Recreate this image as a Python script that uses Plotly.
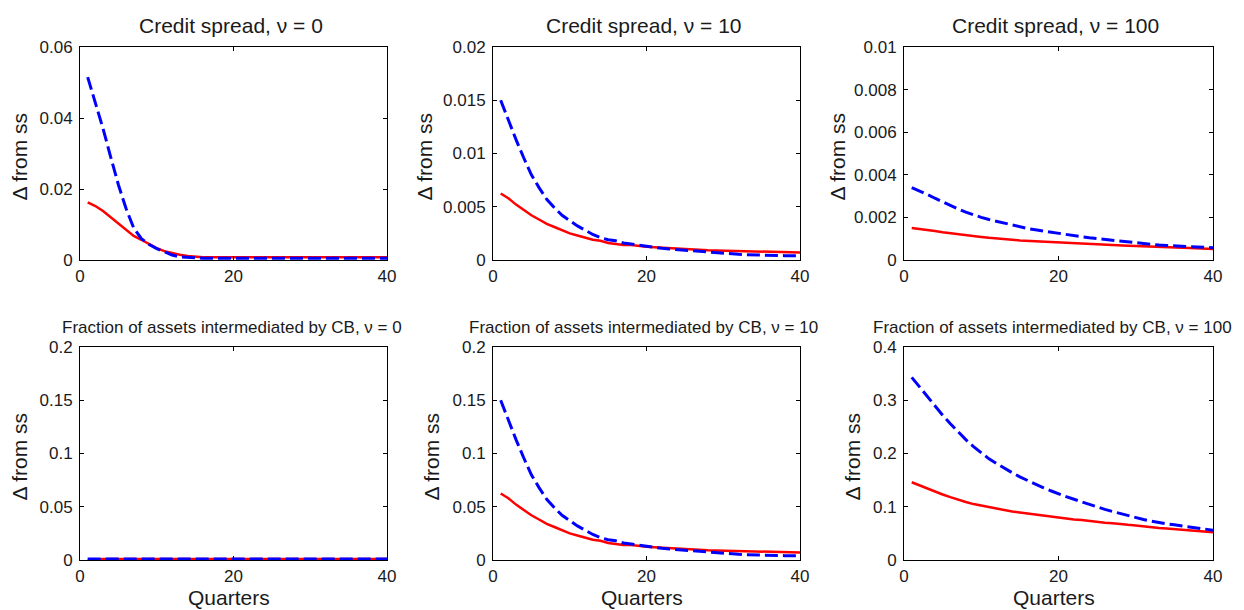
import plotly.graph_objects as go

quarters = list(range(1, 41))

# Credit spread, nu = 0
cs0_red = [0.0162, 0.0152, 0.0138, 0.0121, 0.0102, 0.0085, 0.0068, 0.0057, 0.0045, 0.0033,
           0.0025, 0.0019, 0.0015, 0.0011, 0.0009, 0.0008, 0.0008, 0.0008, 0.0008, 0.0008,
           0.0008, 0.0008, 0.0008, 0.0008, 0.0008, 0.0008, 0.0008, 0.0008, 0.0008, 0.0008,
           0.0008, 0.0008, 0.0008, 0.0008, 0.0008, 0.0008, 0.0008, 0.0008, 0.0008, 0.0008]
cs0_blue = [0.0515, 0.0445, 0.0370, 0.0290, 0.0212, 0.0145, 0.0090, 0.0060, 0.0044, 0.0032,
            0.0022, 0.0014, 0.0009, 0.0007, 0.0006, 0.0005, 0.0005, 0.0005, 0.0005, 0.0005,
            0.0005, 0.0005, 0.0005, 0.0005, 0.0005, 0.0005, 0.0005, 0.0005, 0.0005, 0.0005,
            0.0005, 0.0005, 0.0005, 0.0005, 0.0005, 0.0005, 0.0005, 0.0005, 0.0005, 0.0005]

# Credit spread, nu = 10
cs10_red = [0.00625, 0.0058, 0.0052, 0.0047, 0.0042, 0.0038, 0.0034, 0.0031, 0.0028, 0.0025,
            0.0023, 0.0021, 0.0019, 0.0018, 0.0016, 0.0015, 0.0014, 0.0014, 0.0013, 0.00125,
            0.0012, 0.00115, 0.0011, 0.00105, 0.0010, 0.00098, 0.00095, 0.00092, 0.0009, 0.00088,
            0.00086, 0.00084, 0.00082, 0.0008, 0.00078, 0.00076, 0.00074, 0.00072, 0.00071, 0.0007]
cs10_blue = [0.0150, 0.0131, 0.0113, 0.0096, 0.0080, 0.0068, 0.0057, 0.0049, 0.0042, 0.0037,
             0.0032, 0.0028, 0.0024, 0.0021, 0.0019, 0.0018, 0.0016, 0.0015, 0.0014, 0.00125,
             0.00117, 0.0011, 0.00103, 0.00097, 0.0009, 0.00083, 0.00077, 0.0007, 0.00065, 0.0006,
             0.00057, 0.00053, 0.0005, 0.00047, 0.00045, 0.00043, 0.00042, 0.00041, 0.0004, 0.0004]

# Credit spread, nu = 100
cs100_red = [0.0015, 0.00146, 0.00141, 0.00136, 0.0013, 0.00125, 0.0012, 0.00116, 0.00112, 0.00108,
             0.00104, 0.0010, 0.00098, 0.00095, 0.00092, 0.0009, 0.00088, 0.00086, 0.00085, 0.00083,
             0.00081, 0.00079, 0.00077, 0.00075, 0.00073, 0.00072, 0.0007, 0.00069, 0.00067, 0.00066,
             0.00064, 0.00062, 0.00061, 0.0006, 0.00058, 0.00057, 0.00056, 0.00054, 0.00053, 0.00052]
cs100_blue = [0.0034, 0.00325, 0.00308, 0.0029, 0.00272, 0.00256, 0.0024, 0.00225, 0.00212, 0.0020,
              0.0019, 0.00181, 0.00172, 0.00164, 0.00157, 0.00148, 0.00142, 0.00136, 0.0013, 0.00124,
              0.00119, 0.00114, 0.00109, 0.00104, 0.0010, 0.00095, 0.00091, 0.00087, 0.00083, 0.00079,
              0.00076, 0.00073, 0.0007, 0.00068, 0.00066, 0.00064, 0.00062, 0.0006, 0.00059, 0.00058]

# Fraction of assets intermediated by CB, nu = 0
fr0_red = [0.0, 0.0008, 0.001, 0.001, 0.001, 0.001, 0.001, 0.001, 0.001, 0.001,
           0.001, 0.001, 0.001, 0.001, 0.001, 0.001, 0.001, 0.001, 0.001, 0.001,
           0.001, 0.001, 0.001, 0.001, 0.001, 0.001, 0.001, 0.001, 0.001, 0.001,
           0.001, 0.001, 0.001, 0.001, 0.001, 0.001, 0.001, 0.001, 0.001, 0.001]
fr0_blue = [0.001, 0.001, 0.001, 0.001, 0.001, 0.001, 0.001, 0.001, 0.001, 0.001,
            0.001, 0.001, 0.001, 0.001, 0.001, 0.001, 0.001, 0.001, 0.001, 0.001,
            0.001, 0.001, 0.001, 0.001, 0.001, 0.001, 0.001, 0.001, 0.001, 0.001,
            0.001, 0.001, 0.001, 0.001, 0.001, 0.001, 0.001, 0.001, 0.001, 0.001]

# Fraction of assets intermediated by CB, nu = 10
fr10_red = [0.0625, 0.058, 0.052, 0.047, 0.042, 0.038, 0.034, 0.031, 0.028, 0.025,
            0.023, 0.021, 0.019, 0.018, 0.016, 0.015, 0.014, 0.014, 0.013, 0.0125,
            0.012, 0.0115, 0.011, 0.0105, 0.010, 0.0098, 0.0095, 0.0092, 0.009, 0.0088,
            0.0086, 0.0084, 0.0082, 0.008, 0.0078, 0.0076, 0.0074, 0.0072, 0.0071, 0.007]
fr10_blue = [0.150, 0.131, 0.113, 0.096, 0.080, 0.068, 0.057, 0.049, 0.042, 0.037,
             0.032, 0.028, 0.024, 0.021, 0.019, 0.018, 0.016, 0.015, 0.014, 0.0125,
             0.0117, 0.011, 0.0103, 0.0097, 0.009, 0.0083, 0.0077, 0.007, 0.0065, 0.006,
             0.0057, 0.0053, 0.005, 0.0047, 0.0045, 0.0043, 0.0042, 0.0041, 0.004, 0.004]

# Fraction of assets intermediated by CB, nu = 100
fr100_red = [0.146, 0.140, 0.134, 0.128, 0.123, 0.118, 0.113, 0.109, 0.105, 0.102,
             0.099, 0.096, 0.093, 0.091, 0.089, 0.087, 0.085, 0.083, 0.081, 0.079,
             0.078, 0.076, 0.075, 0.073, 0.072, 0.070, 0.069, 0.067, 0.066, 0.065,
             0.063, 0.062, 0.060, 0.059, 0.058, 0.057, 0.056, 0.054, 0.053, 0.052]
fr100_blue = [0.343, 0.325, 0.308, 0.290, 0.272, 0.256, 0.240, 0.226, 0.213, 0.201,
              0.190, 0.181, 0.172, 0.164, 0.156, 0.149, 0.142, 0.136, 0.130, 0.124,
              0.119, 0.114, 0.109, 0.104, 0.100, 0.095, 0.091, 0.087, 0.083, 0.079,
              0.076, 0.073, 0.070, 0.068, 0.066, 0.064, 0.062, 0.060, 0.058, 0.056]

titles = ["Credit spread, \u03bd = 0", "Credit spread, \u03bd = 10", "Credit spread, \u03bd = 100",
          "Fraction of assets intermediated by CB, \u03bd = 0",
          "Fraction of assets intermediated by CB, \u03bd = 10",
          "Fraction of assets intermediated by CB, \u03bd = 100"]
y_ticks = [
    ([0, 0.02, 0.04, 0.06], ["0", "0.02", "0.04", "0.06"]),
    ([0, 0.005, 0.01, 0.015, 0.02], ["0", "0.005", "0.01", "0.015", "0.02"]),
    ([0, 0.002, 0.004, 0.006, 0.008, 0.01], ["0", "0.002", "0.004", "0.006", "0.008", "0.01"]),
    ([0, 0.05, 0.1, 0.15, 0.2], ["0", "0.05", "0.1", "0.15", "0.2"]),
    ([0, 0.05, 0.1, 0.15, 0.2], ["0", "0.05", "0.1", "0.15", "0.2"]),
    ([0, 0.1, 0.2, 0.3, 0.4], ["0", "0.1", "0.2", "0.3", "0.4"]),
]
x_ticks = [0, 20, 40]
x_label = "Quarters"
y_label = "\u0394 from ss"

series = [(cs0_red, cs0_blue), (cs10_red, cs10_blue), (cs100_red, cs100_blue),
          (fr0_red, fr0_blue), (fr10_red, fr10_blue), (fr100_red, fr100_blue)]

# The page body has an 8px margin, so the figure is drawn 8px in from the corner.
OFF = 8
W, H = 1244 - OFF, 610 - OFF
# plot-area pixel boxes in page pixels (left, right, top, bottom)
cols = [(80, 387), (493, 800), (904, 1213)]
rows = [(47, 260), (347, 560)]
# y-label centre x positions (page px) per panel
ylab_x = [19, 424, 837, 19, 431, 852]
# title centre shifts (page px) per panel
title_dx = [-3, -3, -3, -2, -3, -6]


def px(xp):
    return (xp - OFF) / W


def py(yp):
    return 1 - (yp - OFF) / H


FONT = "Liberation Sans, Arial, Helvetica, sans-serif"
TXT = "#1a1a1a"

fig = go.Figure()
layout = dict(width=W, height=H, margin=dict(l=0, r=0, t=0, b=0, autoexpand=False),
              paper_bgcolor="white", plot_bgcolor="white", showlegend=False,
              font=dict(family=FONT, color=TXT))
annotations = []

for i in range(6):
    r, c = divmod(i, 3)
    n = i + 1
    xa = "x" if n == 1 else f"x{n}"
    ya = "y" if n == 1 else f"y{n}"
    red, blue = series[i]
    fig.add_trace(go.Scatter(x=quarters, y=red, mode="lines", xaxis=xa, yaxis=ya,
                             line=dict(color="#ff0000", width=2.5), hoverinfo="skip"))
    fig.add_trace(go.Scatter(x=quarters, y=blue, mode="lines", xaxis=xa, yaxis=ya,
                             line=dict(color="#0000ff", width=3, dash="13px,5px"), hoverinfo="skip"))
    l, rr = cols[c]
    t, b = rows[r]
    xdom = [px(l), px(rr)]
    ydom = [py(b), py(t)]
    tv, tt = y_ticks[i]
    common = dict(showline=True, linecolor="black", linewidth=1, mirror="allticks",
                  ticks="inside", ticklen=4, tickcolor="black", showgrid=False, zeroline=False,
                  automargin=False, tickfont=dict(size=17, family=FONT, color=TXT))
    layout[f"xaxis{n}"] = dict(domain=xdom, range=[0, 40], tickmode="array", tickvals=x_ticks,
                               ticktext=[str(v) for v in x_ticks], anchor=ya,
                               ticklabelstandoff=1, **common)
    layout[f"yaxis{n}"] = dict(domain=ydom, range=[0, tv[-1]], tickmode="array", tickvals=tv,
                               ticktext=tt, anchor=xa, ticklabelstandoff=3, **common)
    cx = (l + rr) / 2
    title_y = 25 if r == 0 else 327
    annotations.append(dict(text=titles[i], x=px(cx + title_dx[i]), y=py(title_y),
                            xref="paper", yref="paper", xanchor="center", yanchor="middle",
                            showarrow=False,
                            font=dict(size=21 if r == 0 else 17, family=FONT, color=TXT)))
    annotations.append(dict(text=y_label, textangle=-90, x=px(ylab_x[i]), y=py((t + b) / 2 + 3),
                            xref="paper", yref="paper", xanchor="center", yanchor="middle",
                            showarrow=False, font=dict(size=21, family=FONT, color=TXT)))
    if r == 1:
        annotations.append(dict(text=x_label, x=px(cx - 5), y=py(597),
                                xref="paper", yref="paper", xanchor="center", yanchor="middle",
                                showarrow=False, font=dict(size=21, family=FONT, color=TXT)))

layout["annotations"] = annotations
fig.update_layout(**layout)
fig.write_html("out.html")
